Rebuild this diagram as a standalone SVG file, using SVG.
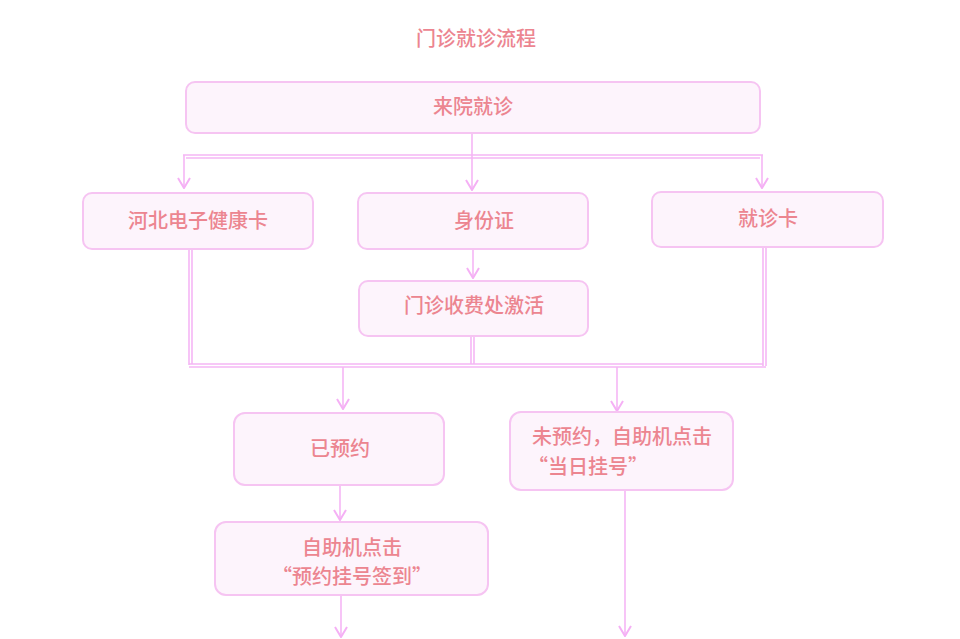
<svg xmlns="http://www.w3.org/2000/svg" width="960" height="639" viewBox="0 0 960 639">
<style>
.box{fill:#fdf4fc;stroke:#f6c4f2;stroke-width:2}
.t{font-family:"Noto Sans CJK SC","Noto Sans",sans-serif;font-size:20px;fill:#ec8590;text-anchor:middle;font-weight:500}
.c{fill:none;stroke:#f5b6f5;stroke-width:1.6}
</style>
<defs>
<marker id="ah" viewBox="0 0 14 12" refX="7" refY="11" markerWidth="14" markerHeight="12" markerUnits="userSpaceOnUse" orient="0">
<path d="M1,1 L7,11 L13,1" fill="none" stroke="#f5b0f5" stroke-width="2"/>
</marker>
</defs>
<rect width="960" height="639" fill="#ffffff"/>
<text class="t" x="476" y="46" font-weight="bold">门诊就诊流程</text>
<g id="connectors">
<path class="c" d="M472,134 V190" marker-end="url(#ah)"/>
<path class="c" d="M183,155 H763"/>
<path class="c" d="M186,158 H760"/>
<path class="c" d="M184,155 V188" marker-end="url(#ah)"/>
<path class="c" d="M762,155 V188" marker-end="url(#ah)"/>
<path class="c" d="M473,250 V278" marker-end="url(#ah)"/>
<path class="c" d="M189,250 V365"/>
<path class="c" d="M192,250 V364"/>
<path class="c" d="M763,248 V366"/>
<path class="c" d="M766,248 V366"/>
<path class="c" d="M471,337 V364"/>
<path class="c" d="M474,337 V364"/>
<path class="c" d="M189,364 H763"/>
<path class="c" d="M189,367 H766"/>
<path class="c" d="M343,367 V409" marker-end="url(#ah)"/>
<path class="c" d="M617,367 V411" marker-end="url(#ah)"/>
<path class="c" d="M340,486 V520" marker-end="url(#ah)"/>
<path class="c" d="M341,596 V637" marker-end="url(#ah)"/>
<path class="c" d="M625,490 V636" marker-end="url(#ah)"/>
</g>
<g id="n1"><rect class="box" x="186" y="82" width="574" height="51" rx="9"/><text class="t" x="473" y="114">来院就诊</text></g>
<g id="n2"><rect class="box" x="83" y="193" width="230" height="56" rx="9"/><text class="t" x="198" y="228">河北电子健康卡</text></g>
<g id="n3"><rect class="box" x="358" y="193" width="230" height="56" rx="9"/><text class="t" x="484" y="228">身份证</text></g>
<g id="n4"><rect class="box" x="652" y="192" width="231" height="55" rx="9"/><text class="t" x="768" y="226">就诊卡</text></g>
<g id="n5"><rect class="box" x="359" y="281" width="229" height="55" rx="9"/><text class="t" x="474" y="313">门诊收费处激活</text></g>
<g id="n6"><rect class="box" x="234" y="413" width="210" height="72" rx="11"/><text class="t" x="340" y="456">已预约</text></g>
<g id="n7"><rect class="box" x="510" y="412" width="223" height="78" rx="11"/><text class="t" x="622" y="444">未预约，自助机点击</text><text class="t" x="588" y="474">“当日挂号”</text></g>
<g id="n8"><rect class="box" x="215" y="522" width="273" height="73" rx="11"/><text class="t" x="352" y="555">自助机点击</text><text class="t" x="352" y="584">“预约挂号签到”</text></g>
</svg>
